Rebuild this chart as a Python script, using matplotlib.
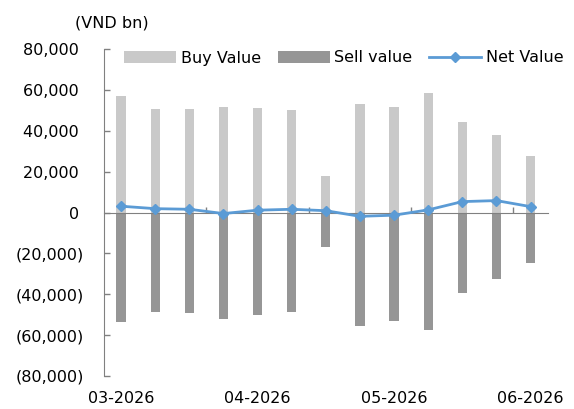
import matplotlib
matplotlib.use("Agg")
import matplotlib.pyplot as plt
from matplotlib.ticker import FuncFormatter, MultipleLocator
import numpy as np

# monthly foreign trading (VND bn), 13 periods
periods = ["03-2026", "", "", "", "04-2026", "", "", "", "05-2026", "", "", "", "06-2026"]
buy_value = [56900, 50800, 50800, 51800, 51400, 50100, 17700, 53400, 51900, 58700, 44600, 38200, 27900]
sell_value = [-53700, -48900, -49100, -52200, -50300, -48600, -16900, -55300, -53100, -57300, -39300, -32600, -24900]
net_value = [3150, 1950, 1650, -450, 1200, 1650, 950, -1800, -1250, 1350, 5400, 5900, 2950]

LIGHT = "#c9c9c9"
DARK = "#969696"
BLUE = "#5b9bd5"
AXC = "#808080"

plt.rcParams["font.family"] = "DejaVu Sans"
plt.rcParams["font.size"] = 11.5

fig = plt.figure(figsize=(5.74, 4.09), dpi=100)
ax = fig.add_axes([0.1812, 0.0807, 0.7728, 0.7988])

x = np.arange(len(periods))
b1 = ax.bar(x, buy_value, width=0.27, color=LIGHT, label="Buy Value", zorder=1)
b2 = ax.bar(x, sell_value, width=0.27, color=DARK, label="Sell value", zorder=1)
l1, = ax.plot(x, net_value, color=BLUE, lw=2, marker="D", ms=4.6, label="Net Value", zorder=3)

ax.set_xlim(-0.5, len(periods) - 0.5)
ax.set_ylim(-80000, 80000)
ax.yaxis.set_major_locator(MultipleLocator(20000))
ax.yaxis.set_major_formatter(FuncFormatter(
    lambda v, p: f"{v:,.0f} " if v >= 0 else f"({-v:,.0f})"))
ax.tick_params(axis="y", direction="in", length=4, width=1, color=AXC, pad=14.4)

for s in ["top", "right"]:
    ax.spines[s].set_visible(False)
ax.spines["left"].set_color(AXC)
ax.spines["bottom"].set_color(AXC)
ax.spines["bottom"].set_position(("data", 0))

# boundary tick marks every 3 periods on the zero line
ax.set_xticks([])
ax.set_xticks(x[2::3] + 0.5, minor=True)
ax.tick_params(axis="x", which="both", direction="in", length=4, width=1,
               color=AXC, labelbottom=False)

sec = ax.secondary_xaxis("bottom")
sec.set_xticks(x[::4], [periods[i] for i in x[::4]])
sec.tick_params(length=0, pad=10.5)
sec.spines["bottom"].set_visible(False)

fig.legend(handles=[b1, b2, l1], loc="center left",
           bbox_to_anchor=(124 / 574, 1 - 58 / 409), ncol=3,
           frameon=False, borderpad=0, borderaxespad=0, handlelength=3.25,
           handletextpad=0.3, columnspacing=1.05, fontsize=11.5)

fig.text(112 / 574, 1 - 22.7 / 409, "(VND bn)", ha="center", va="center", fontsize=11.5)

fig.savefig("out.png", dpi=100)
